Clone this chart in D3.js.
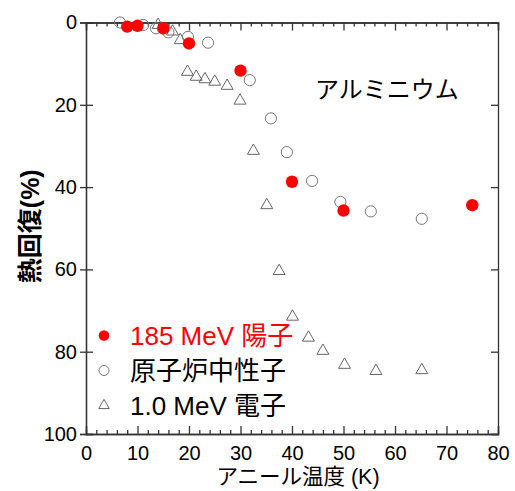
<!DOCTYPE html>
<html>
<head>
<meta charset="utf-8">
<script src="https://cdn.jsdelivr.net/npm/d3@7"></script>
<style>
  body { margin: 0; background: #fff; }
  svg text { font-family: "Liberation Sans", "Noto Sans CJK JP", sans-serif; }
</style>
</head>
<body>
<div id="chart"></div>
<script>
// 185 MeV proton
var protonT = [8, 10, 15, 20, 30, 40, 50, 75];
var protonR = [1.0, 0.8, 1.4, 5.1, 11.7, 38.7, 45.7, 44.4];

// reactor neutron
var neutronT = [6.6, 11.1, 13.6, 16.0, 19.8, 23.7, 31.8, 35.9, 39.0, 43.9, 49.4, 55.3, 65.2];
var neutronR = [0, 0.6, 1.4, 2.4, 3.5, 4.9, 14.0, 23.3, 31.5, 38.5, 43.6, 45.9, 47.7];

// 1.0 MeV electron
var electronT = [14.0, 16.8, 18.3, 19.7, 21.4, 23.1, 25.0, 27.4, 29.9, 32.5, 35.1, 37.5, 40.1, 43.2, 46.0, 50.2, 56.3, 65.2];
var electronR = [0.6, 2.2, 4.3, 12.0, 13.2, 13.8, 14.4, 15.4, 19.0, 31.2, 44.4, 60.4, 71.5, 76.6, 79.8, 83.2, 84.7, 84.5];

var legendLabels = ["185 MeV 陽子", "原子炉中性子", "1.0 MeV 電子"];
var xTicks = [0, 10, 20, 30, 40, 50, 60, 70, 80];
var yTicks = [0, 20, 40, 60, 80, 100];

var svgWidth = 515;
var svgHeight = 491;
var margin = { top: 22.5, right: 17, bottom: 57, left: 86 };
var width = svgWidth - margin.left - margin.right;
var height = svgHeight - margin.top - margin.bottom;

var svg = d3.select("#chart")
  .append("svg")
  .attr("width", svgWidth)
  .attr("height", svgHeight);

var chartGroup = svg.append("g")
  .attr("transform", `translate(${margin.left}, ${margin.top})`);

var x = d3.scaleLinear().domain([0, 80]).range([0, width]);
var y = d3.scaleLinear().domain([0, 100]).range([0, height]);

var minorX = d3.range(0, 81, 2).filter(d => d % 10 !== 0);

function styleAxis(g) {
  g.selectAll("path, line").attr("stroke", "#333").attr("stroke-width", 1.3);
  g.selectAll("text").attr("fill", "#000").style("font-size", "20px");
}

// bottom axis
chartGroup.append("g")
  .attr("transform", `translate(0, ${height})`)
  .call(d3.axisBottom(x).tickValues(xTicks).tickSize(-8).tickPadding(12).tickFormat(d3.format("d")))
  .call(styleAxis);
chartGroup.append("g")
  .attr("transform", `translate(0, ${height})`)
  .call(d3.axisBottom(x).tickValues(minorX).tickSize(-4).tickFormat(""))
  .call(styleAxis);

// top axis
chartGroup.append("g")
  .call(d3.axisTop(x).tickValues(xTicks).tickSize(-8).tickFormat(""))
  .call(styleAxis);
chartGroup.append("g")
  .call(d3.axisTop(x).tickValues(minorX).tickSize(-4).tickFormat(""))
  .call(styleAxis);

// left axis
chartGroup.append("g")
  .call(d3.axisLeft(y).tickValues(yTicks).tickSize(6).tickPadding(3))
  .call(styleAxis);
chartGroup.append("g")
  .call(d3.axisLeft(y).tickValues(yTicks).tickSize(-7).tickFormat(""))
  .call(styleAxis);

// right axis
chartGroup.append("g")
  .attr("transform", `translate(${width}, 0)`)
  .call(d3.axisRight(y).tickValues(yTicks).tickSize(-7).tickFormat(""))
  .call(styleAxis);

var tri = d3.symbol().type(d3.symbolTriangle).size(62);

// electrons
chartGroup.selectAll(".elec")
  .data(electronT)
  .enter()
  .append("path")
  .attr("class", "elec")
  .attr("d", tri)
  .attr("transform", (d, i) => `translate(${x(d)}, ${y(electronR[i])})`)
  .attr("fill", "none")
  .attr("stroke", "#666")
  .attr("stroke-width", 1);

// neutrons
chartGroup.selectAll(".neut")
  .data(neutronT)
  .enter()
  .append("circle")
  .attr("class", "neut")
  .attr("cx", d => x(d))
  .attr("cy", (d, i) => y(neutronR[i]))
  .attr("r", 5.6)
  .attr("fill", "none")
  .attr("stroke", "#777")
  .attr("stroke-width", 1);

// protons
chartGroup.selectAll(".prot")
  .data(protonT)
  .enter()
  .append("circle")
  .attr("class", "prot")
  .attr("cx", d => x(d))
  .attr("cy", (d, i) => y(protonR[i]))
  .attr("r", 6.2)
  .attr("fill", "#ff0000");

// material label
chartGroup.append("text")
  .attr("x", 229)
  .attr("y", 75)
  .style("font-size", "24px")
  .text("アルミニウム");

// legend
var legend = chartGroup.append("g")
  .attr("transform", "translate(18, 313)");

legend.append("circle")
  .attr("cx", 0).attr("cy", 0).attr("r", 5.3)
  .attr("fill", "#ff0000");
legend.append("circle")
  .attr("cx", 0).attr("cy", 35).attr("r", 5)
  .attr("fill", "none").attr("stroke", "#777").attr("stroke-width", 1);
legend.append("path")
  .attr("d", d3.symbol().type(d3.symbolTriangle).size(48))
  .attr("transform", "translate(0, 70)")
  .attr("fill", "none").attr("stroke", "#666").attr("stroke-width", 1);

legend.selectAll(".ltext")
  .data(legendLabels)
  .enter()
  .append("text")
  .attr("class", "ltext")
  .attr("x", 26)
  .attr("y", (d, i) => i * 35)
  .attr("dy", "0.36em")
  .attr("fill", (d, i) => i === 0 ? "#ff0000" : "#000")
  .style("font-size", "26px")
  .text(d => d);

// axis titles
chartGroup.append("text")
  .attr("transform", "rotate(-90)")
  .attr("x", -height / 2 + 2)
  .attr("y", -47)
  .style("text-anchor", "middle")
  .style("font-size", "25px")
  .style("font-weight", "bold")
  .text("熱回復(%)");

chartGroup.append("text")
  .attr("x", width / 2 + 6)
  .attr("y", height + 50)
  .style("text-anchor", "middle")
  .style("font-size", "21.5px")
  .text("アニール温度 (K)");
</script>
</body>
</html>
